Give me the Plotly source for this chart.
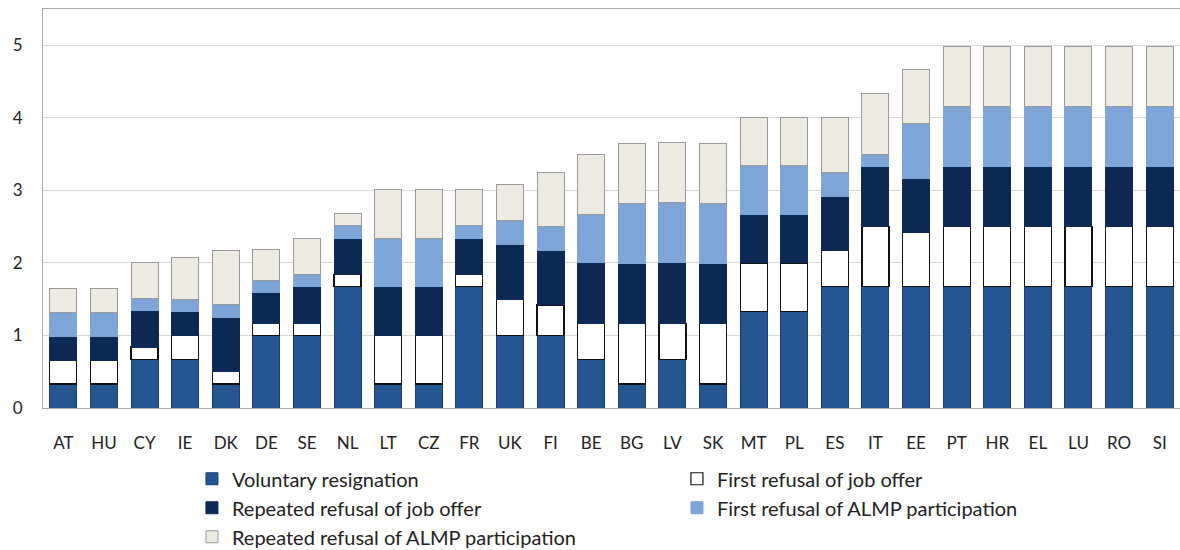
import plotly.graph_objects as go

countries = ["AT", "HU", "CY", "IE", "DK", "DE", "SE", "NL", "LT", "CZ", "FR", "UK", "FI", "BE",
             "BG", "LV", "SK", "MT", "PL", "ES", "IT", "EE", "PT", "HR", "EL", "LU", "RO", "SI"]

voluntary_resignation = [0.33, 0.33, 0.67, 0.67, 0.33, 1.0, 1.0, 1.67, 0.33, 0.33, 1.67, 1.0, 1.0, 0.67,
                         0.33, 0.67, 0.33, 1.33, 1.33, 1.67, 1.67, 1.67, 1.67, 1.67, 1.67, 1.67, 1.67, 1.67]
first_refusal_job = [0.33, 0.33, 0.17, 0.33, 0.17, 0.17, 0.17, 0.17, 0.67, 0.67, 0.17, 0.5, 0.42, 0.5,
                     0.83, 0.5, 0.83, 0.67, 0.67, 0.5, 0.83, 0.75, 0.83, 0.83, 0.83, 0.83, 0.83, 0.83]
repeated_refusal_job = [0.33, 0.33, 0.5, 0.33, 0.75, 0.42, 0.5, 0.5, 0.67, 0.67, 0.5, 0.75, 0.75, 0.83,
                        0.83, 0.83, 0.83, 0.67, 0.67, 0.75, 0.83, 0.75, 0.83, 0.83, 0.83, 0.83, 0.83, 0.83]
first_refusal_almp = [0.33, 0.33, 0.17, 0.17, 0.17, 0.17, 0.17, 0.17, 0.67, 0.67, 0.17, 0.33, 0.33, 0.67,
                      0.83, 0.83, 0.83, 0.67, 0.67, 0.33, 0.17, 0.75, 0.83, 0.83, 0.83, 0.83, 0.83, 0.83]
repeated_refusal_almp = [0.33, 0.33, 0.5, 0.58, 0.75, 0.42, 0.5, 0.17, 0.67, 0.67, 0.5, 0.5, 0.75, 0.83,
                         0.83, 0.83, 0.83, 0.67, 0.67, 0.75, 0.83, 0.75, 0.83, 0.83, 0.83, 0.83, 0.83, 0.83]

series = [
    ("Voluntary resignation", voluntary_resignation, "#265692", "#1c3f73", 1),
    ("First refusal of job offer", first_refusal_job, "#ffffff", "#111111", 1.2),
    ("Repeated refusal of job offer", repeated_refusal_job, "#0c2a54", "#0c2a54", 1),
    ("First refusal of ALMP participation", first_refusal_almp, "#7da5d7", "#7da5d7", 1),
    ("Repeated refusal of ALMP participation", repeated_refusal_almp, "#eceae1", "#9a9a9a", 1),
]

fig = go.Figure()
for name, vals, color, line_color, lw in series:
    fig.add_trace(go.Bar(
        x=countries, y=vals, name=name,
        marker=dict(color=color, line=dict(color=line_color, width=lw)),
    ))

font_family = "Lato, 'Open Sans', sans-serif"

fig.update_layout(
    barmode="stack",
    bargap=0.335,
    width=1180, height=550,
    margin=dict(l=43, r=0, t=9, b=142),
    plot_bgcolor="white",
    paper_bgcolor="white",
    font=dict(family=font_family, color="#222222"),
    showlegend=True,
    legend=dict(
        orientation="h",
        x=0.131, xanchor="left",
        yref="container", y=0.165, yanchor="top",
        entrywidth=440, entrywidthmode="pixels",
        font=dict(size=20, color="#222222"),
        traceorder="normal",
        itemwidth=30,
    ),
)

fig.update_xaxes(
    showline=True, linecolor="#a6a6a6", linewidth=1, mirror=True,
    tickfont=dict(size=17),
    ticks="", ticklabelstandoff=20,
)
fig.update_yaxes(
    range=[0, 5.5], tickvals=[0, 1, 2, 3, 4, 5],
    showgrid=True, gridcolor="#d9d9d9", gridwidth=1,
    showline=True, linecolor="#a6a6a6", linewidth=1, mirror=True,
    tickfont=dict(size=17),
    ticks="", ticklabelstandoff=16,
    zeroline=False,
)

fig.write_html("out.html")
